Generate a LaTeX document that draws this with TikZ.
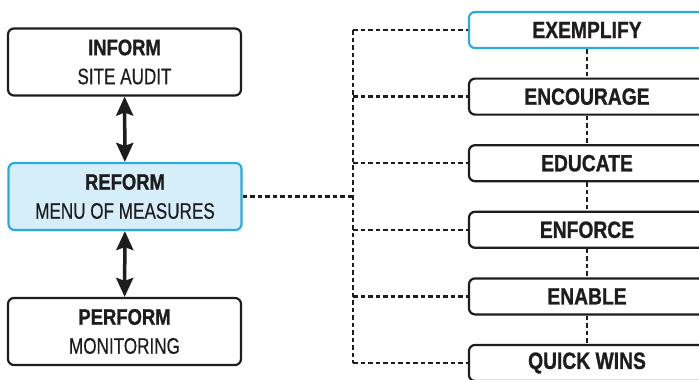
\documentclass[tikz,border=0pt]{standalone}
\usepackage{fontspec}
\setmainfont{Liberation Sans}[FakeStretch=0.76, FakeBold=0.4]
\newfontfamily\bcond{Liberation Sans Bold}[FakeStretch=0.82, FakeBold=1]
\usetikzlibrary{arrows.meta}
\definecolor{txt}{HTML}{1E1C1D}
\definecolor{cyanline}{HTML}{29ABE2}
\definecolor{lightblue}{HTML}{D6EDFA}
\tikzset{
  leftbox/.style={draw=txt, line width=2.2pt, rounded corners=6pt, minimum width=233pt, minimum height=67pt, align=center, text=txt, inner sep=0pt, font=\fontsize{22.5}{29}\selectfont},
  rightbox/.style={draw=txt, line width=2.2pt, rounded corners=6pt, minimum width=236pt, minimum height=36pt, text=txt, inner sep=0pt, font=\fontsize{23.5}{27}\selectfont\bcond},
  hilite/.style={draw=cyanline},
  dashline/.style={draw=txt, line width=2.4pt, dash pattern=on 4.5pt off 3pt},
  dblarrow/.style={draw=txt, line width=3.5pt, {Stealth[length=19pt,width=17pt,inset=3pt]}-{Stealth[length=19pt,width=17pt,inset=3pt]}}
}
\begin{document}
\begin{tikzpicture}[x=1pt,y=-1pt]
\clip (0,0) rectangle (699,380);
\fill[white] (0,0) rectangle (699,380);
% left column
\node[leftbox] (inform) at (124.5,62) {{\bcond INFORM}\\SITE AUDIT};
\node[leftbox, draw=cyanline, fill=lightblue] (reform) at (125,196.5) {{\bcond REFORM}\\MENU OF MEASURES};
\node[leftbox] (perform) at (124.5,331.5) {{\bcond PERFORM}\\MONITORING};
\draw[dblarrow] (inform) -- (reform);
\draw[dblarrow] (reform) -- (perform);
% right column
\node[rightbox, hilite] (r1) at (587,30) {EXEMPLIFY};
\node[rightbox] (r2) at (587,96.6) {ENCOURAGE};
\node[rightbox] (r3) at (587,163.2) {EDUCATE};
\node[rightbox] (r4) at (587,229.8) {ENFORCE};
\node[rightbox] (r5) at (587,296.4) {ENABLE};
\node[rightbox] (r6) at (587,363) {QUICK WINS};
% dashed bus
\coordinate (bustop) at (353,30);
\coordinate (busbot) at (353,363);
\draw[dashline] (bustop) -- (busbot);
\draw[dashline] (reform.east) -- (reform.east -| bustop);
\foreach \n in {r1,r2,r3,r4,r5,r6}{
  \draw[dashline] (\n.west -| bustop) -- (\n.west);
}
\draw[dashline] (r1.south) -- (r2.north);
\draw[dashline] (r2.south) -- (r3.north);
\draw[dashline] (r3.south) -- (r4.north);
\draw[dashline] (r4.south) -- (r5.north);
\draw[dashline] (r5.south) -- (r6.north);
\end{tikzpicture}
\end{document}
